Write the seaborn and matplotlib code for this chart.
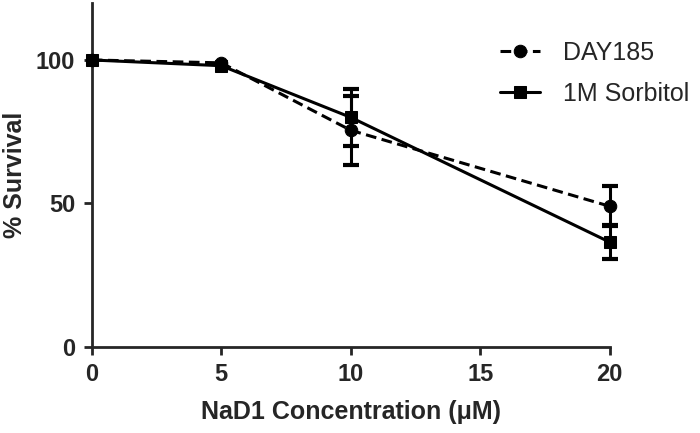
"""
Survival vs NaD1 concentration, two conditions with SD error bars.
"""

import numpy as np
import pandas as pd
import matplotlib
matplotlib.use("Agg")
import matplotlib.pyplot as plt
import seaborn as sns


# --- Data ---
CONC = [0, 5, 10, 20]
SERIES = ["DAY185", "1M Sorbitol"]
DAY185_MEAN = [100, 99, 75.5, 49]
DAY185_SD = [0, 0, 12, 7]
SORBITOL_MEAN = [100, 98, 80, 36.5]
SORBITOL_SD = [0, 0, 10, 6]

X_TICKS = [0, 5, 10, 15, 20]
Y_TICKS = [0, 50, 100]


def main() -> None:
    sns.set_style("ticks")
    plt.rcParams["font.family"] = ["Liberation Sans", "DejaVu Sans"]
    plt.rcParams["font.weight"] = "bold"

    df = pd.DataFrame({
        "conc": CONC * 2,
        "survival": DAY185_MEAN + SORBITOL_MEAN,
        "sd": DAY185_SD + SORBITOL_SD,
        "series": [SERIES[0]] * len(CONC) + [SERIES[1]] * len(CONC),
    })

    fig = plt.figure(figsize=(7, 4.33), dpi=100)
    ax = fig.add_axes([0.131, 0.199, 0.74, 0.795])

    sns.lineplot(
        data=df, x="conc", y="survival", style="series", hue="series",
        palette=["black", "black"], markers=["o", "s"],
        dashes=[(3.5, 1.8), ""], style_order=SERIES, hue_order=SERIES,
        linewidth=2.2, markersize=9, markeredgecolor="black",
        ax=ax, legend=True, clip_on=False, zorder=4,
    )

    for name in SERIES:
        sub = df[df["series"] == name]
        sub = sub[sub["sd"] > 0]
        bars = ax.errorbar(
            sub["conc"], sub["survival"], yerr=sub["sd"], fmt="none",
            ecolor="black", elinewidth=2.2, capsize=6, capthick=3, zorder=3,
        )
        for art in bars.lines[1] + bars.lines[2]:
            art.set_clip_on(False)

    ax.set_xlim(0, 20)
    ax.set_ylim(0, 120)
    ax.set_xticks(X_TICKS)
    ax.set_yticks(Y_TICKS)
    ax.tick_params(width=2, length=6, labelsize=17, pad=6)

    for side in ["top", "right"]:
        ax.spines[side].set_visible(False)
    for side in ["left", "bottom"]:
        ax.spines[side].set_linewidth(2)

    ax.set_xlabel("NaD1 Concentration (\u03bcM)", fontsize=18, fontweight="bold", labelpad=10)
    ax.set_ylabel("% Survival", fontsize=18, fontweight="bold")
    ax.yaxis.set_label_coords(-0.124, 0.5)

    ax.legend(
        title=None, loc="upper left", bbox_to_anchor=(0.745, 0.955), frameon=False,
        prop={"size": 18, "weight": "normal"},
        handlelength=1.6, handletextpad=0.9, labelspacing=0.7,
    )

    fig.savefig("out.png", dpi=100)
    plt.close(fig)


if __name__ == "__main__":
    main()
